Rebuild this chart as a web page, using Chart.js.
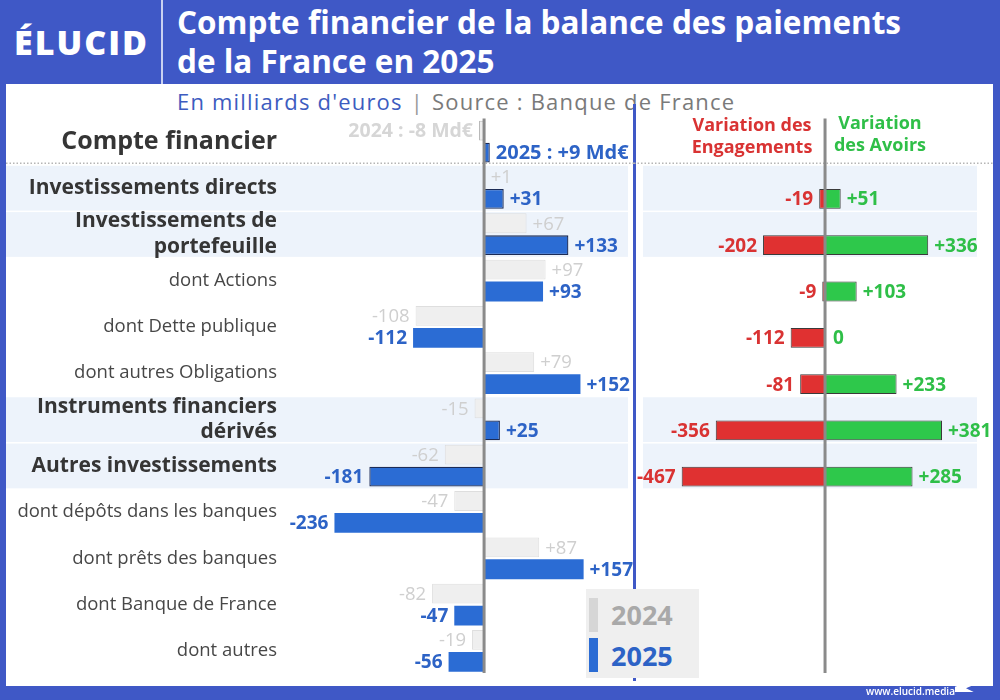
<!DOCTYPE html>
<html lang="fr">
<head>
<meta charset="utf-8">
<title>Compte financier de la balance des paiements de la France en 2025</title>
<script src="https://cdn.jsdelivr.net/npm/chart.js@4.4.1/dist/chart.umd.min.js"></script>
<style>
  html, body { margin: 0; padding: 0; }
  body { width: 1000px; height: 700px; overflow: hidden; font-family: "Open Sans", sans-serif; }
  #page { position: relative; width: 1000px; height: 700px; background: #3f58c6; }
  .abs { position: absolute; white-space: nowrap; }
  #panel { left: 6px; top: 84px; width: 987px; height: 602px; background: #fff; }
  #logo { left: 14px; top: 20px; font-size: 34px; font-weight: 800; color: #fff; line-height: 44px; letter-spacing: 2px; }
  #sep { left: 161px; top: 0; width: 2px; height: 84px; background: #c9d1f1; }
  #title { left: 177px; top: 2px; font-size: 31.5px; font-weight: 700; color: #fff; line-height: 39px; }
  #subtitle { left: 177px; top: 86px; font-size: 22px; line-height: 30px; color: #7a7a7a; letter-spacing: 1.2px; }
  #subtitle .unit { color: #3d5cc0; }
  #subtitle .bar { color: #9a9a9a; margin: 0 8px; }
  #divider { left: 633px; top: 104px; width: 3px; height: 577px; background: #3f58c6; }
  canvas { position: absolute; }
  #leftChart { left: 6px; top: 84px; }
  #rightChart { left: 634px; top: 84px; }
  .head { font-size: 18px; font-weight: 700; line-height: 22px; text-align: center; }
  #headEng { left: 688px; top: 113px; width: 128px; color: #d93333; }
  #headAv { left: 828px; top: 111px; width: 104px; color: #2fbf48; }
  #legend { left: 586px; top: 589px; width: 113px; height: 89px; background: #efefef; }
  .key { position: absolute; left: 3px; width: 9px; }
  .keyText { position: absolute; left: 25px; font-size: 27px; font-weight: 700; line-height: 36px; }
  #footer { left: 866px; top: 683px; font-size: 10px; font-weight: 600; color: #fff; line-height: 16px; }
  #flag { left: 955px; top: 679px; width: 22px; height: 13px; background: #fff;
          clip-path: polygon(0 60%, 100% 0, 100% 35%, 50% 72%, 85% 100%, 0 100%); }
</style>
</head>
<body>
<div id="page">
  <div class="abs" id="panel"></div>
  <div class="abs" id="logo">ÉLUCID</div>
  <div class="abs" id="sep"></div>
  <div class="abs" id="title">Compte financier de la balance des paiements<br>de la France en 2025</div>
  <div class="abs" id="subtitle"><span class="unit">En milliards d'euros</span><span class="bar">|</span>Source : Banque de France</div>
  <div class="abs" id="divider"></div>
  <canvas id="leftChart" width="628" height="602"></canvas>
  <canvas id="rightChart" width="359" height="602"></canvas>
  <div class="abs head" id="headEng">Variation des<br>Engagements</div>
  <div class="abs head" id="headAv">Variation<br>des Avoirs</div>
  <div class="abs" id="legend"></div>
  <div class="abs" id="footer">www.elucid.media</div>
  <div class="abs" id="flag"></div>
</div>
<script>
const FONT = '"Open Sans", sans-serif';

const categories = [
  'Compte financier',
  'Investissements directs',
  ['Investissements de', 'portefeuille'],
  'dont Actions',
  'dont Dette publique',
  'dont autres Obligations',
  ['Instruments financiers', 'dérivés'],
  'Autres investissements',
  'dont dépôts dans les banques',
  'dont prêts des banques',
  'dont Banque de France',
  'dont autres'
];
// 0 = total, 1 = poste principal, 2 = sous-poste
const levels = [0, 1, 1, 2, 2, 2, 1, 1, 2, 2, 2, 2];

const years = ['2024', '2025'];
const flux2024 = [-8, 1, 67, 97, -108, 79, -15, -62, -47, 87, -82, -19];
const flux2025 = [9, 31, 133, 93, -112, 152, 25, -181, -236, 157, -47, -56];

const variationNames = ['Variation des Avoirs', 'Variation des Engagements'];
const avoirs2025 = [null, 51, 336, 103, 0, 233, 381, 285, null, null, null, null];
const engagements2025 = [null, -19, -202, -9, -112, -81, -356, -467, null, null, null, null];

const yearColors = ['#efefef', '#2b6cd4'];
const yearTextColors = ['#a9a9a9', '#2d63c6'];

Chart.defaults.font.family = FONT;

function fmt(v) {
  return v > 0 ? '+' + v : String(v);
}

// bandes de fond des postes principaux + ligne pointillée sous le total
const rowBands = {
  id: 'rowBands',
  beforeDraw(chart, args, opts) {
    const ctx = chart.ctx;
    const y = chart.scales.y;
    const area = chart.chartArea;
    const step = y.getPixelForValue(1) - y.getPixelForValue(0);
    ctx.save();
    ctx.fillStyle = '#edf3fb';
    levels.forEach((lv, i) => {
      if (lv !== 1) return;
      const c = y.getPixelForValue(i);
      const x0 = opts.fromEdge ? 0 : area.left;
      ctx.fillRect(x0, c - step / 2 + 1, area.right - x0, step - 1.5);
    });
    const yd = y.getPixelForValue(0) + step / 2 - 1.5;
    ctx.strokeStyle = '#b5b5b5';
    ctx.lineWidth = 1.5;
    ctx.setLineDash([1.5, 2]);
    ctx.beginPath();
    ctx.moveTo(0, yd);
    ctx.lineTo(chart.width, yd);
    ctx.stroke();
    ctx.restore();
  }
};

const zeroLine = {
  id: 'zeroLine',
  afterDatasetsDraw(chart) {
    const ctx = chart.ctx;
    const x = chart.scales.x.getPixelForValue(0);
    ctx.save();
    ctx.strokeStyle = '#8a8a8a';
    ctx.lineWidth = 3;
    ctx.beginPath();
    ctx.moveTo(x, chart.chartArea.top);
    ctx.lineTo(x, chart.chartArea.bottom - 1);
    ctx.stroke();
    ctx.restore();
  }
};

const valueLabels = {
  id: 'valueLabels',
  afterDatasetsDraw(chart, args, opts) {
    const ctx = chart.ctx;
    ctx.save();
    ctx.textBaseline = 'middle';
    chart.data.datasets.forEach((ds, di) => {
      const st = opts.styles[di];
      if (!st) return;
      const meta = chart.getDatasetMeta(di);
      meta.data.forEach((bar, i) => {
        const v = ds.data[i];
        if (v === null || v === undefined) return;
        let text = fmt(v);
        let font = st.font;
        let color = st.color;
        if (levels[i] === 0) {
          text = ds.label + ' : ' + fmt(v) + ' Md€';
          font = st.totalFont;
          color = st.totalColor || st.color;
        }
        ctx.font = font;
        ctx.fillStyle = color;
        if (v >= 0) {
          ctx.textAlign = 'left';
          ctx.fillText(text, bar.x + (v === 0 ? 8 : 6), bar.y + 1);
        } else {
          ctx.textAlign = 'right';
          ctx.fillText(text, bar.x - 6, bar.y + 1);
        }
      });
    });
    ctx.restore();
  }
};

new Chart(document.getElementById('leftChart'), {
  type: 'bar',
  data: {
    labels: categories,
    datasets: [
      {
        label: years[0],
        data: flux2024,
        backgroundColor: yearColors[0],
        borderColor: (c) => levels[c.dataIndex] === 0 ? '#b9b9b9' : '#dedede',
        borderWidth: 1,
        categoryPercentage: 0.95,
        barPercentage: 0.9
      },
      {
        label: years[1],
        data: flux2025,
        backgroundColor: yearColors[1],
        borderColor: '#1b2b56',
        borderWidth: (c) => levels[c.dataIndex] < 2 ? 1.3 : 0,
        categoryPercentage: 0.95,
        barPercentage: 0.9
      }
    ]
  },
  options: {
    responsive: false,
    animation: false,
    indexAxis: 'y',
    layout: { padding: { top: 34.5, bottom: 12, right: 6 } },
    plugins: {
      legend: { display: false },
      tooltip: { enabled: false },
      rowBands: { fromEdge: true },
      valueLabels: {
        styles: [
          { color: '#cfcfcf', font: '18.5px ' + FONT, totalFont: 'bold 19.5px ' + FONT, totalColor: '#d6d6d6' },
          { color: '#2d63c6', font: 'bold 19px ' + FONT, totalFont: 'bold 20px ' + FONT }
        ]
      }
    },
    scales: {
      x: { display: false, min: -314, max: 227 },
      y: {
        grid: { display: false, drawTicks: false },
        border: { display: false },
        ticks: {
          autoSkip: false,
          padding: 8,
          color: (c) => levels[c.index] === 2 ? '#474747' : '#353535',
          font: (c) => {
            const lv = levels[c.index];
            if (lv === 0) return { size: 25, weight: 'bold', lineHeight: 1.25 };
            if (lv === 1) return { size: 21, weight: 'bold', lineHeight: 1.22 };
            return { size: 18.5, weight: 'normal', lineHeight: 1.25 };
          }
        },
        afterFit(s) {
          s.width = 279;
          s.paddingTop = 0;
          s.paddingBottom = 0;
        }
      }
    }
  },
  plugins: [rowBands, zeroLine, valueLabels]
});

new Chart(document.getElementById('rightChart'), {
  type: 'bar',
  data: {
    labels: categories,
    datasets: [
      { label: '', data: categories.map(() => null), stack: 'vide', categoryPercentage: 0.95, barPercentage: 0.9 },
      {
        label: variationNames[0],
        data: avoirs2025,
        stack: 'flux',
        backgroundColor: '#2ec84b',
        borderColor: '#3a3a3a',
        borderWidth: (c) => c.raw === 0 ? 0 : 1,
        categoryPercentage: 0.95,
        barPercentage: 0.9
      },
      {
        label: variationNames[1],
        data: engagements2025,
        stack: 'flux',
        backgroundColor: '#e03131',
        borderColor: '#3a3a3a',
        borderWidth: 1,
        categoryPercentage: 0.95,
        barPercentage: 0.9
      }
    ]
  },
  options: {
    responsive: false,
    animation: false,
    indexAxis: 'y',
    layout: { padding: { top: 34.5, bottom: 12, left: 9, right: 16 } },
    plugins: {
      legend: { display: false },
      tooltip: { enabled: false },
      rowBands: { fromEdge: false },
      valueLabels: {
        styles: [
          null,
          { color: '#2fbf48', font: 'bold 19px ' + FONT },
          { color: '#d93333', font: 'bold 19px ' + FONT }
        ]
      }
    },
    scales: {
      x: { display: false, stacked: false, min: -593, max: 495 },
      y: { display: false, stacked: true }
    }
  },
  plugins: [rowBands, zeroLine, valueLabels]
});

// légende des années
const legend = document.getElementById('legend');
years.forEach((yr, i) => {
  const key = document.createElement('div');
  key.className = 'key';
  key.style.top = (9 + i * 40) + 'px';
  key.style.height = '34px';
  key.style.background = i === 0 ? '#d6d6d6' : yearColors[1];
  legend.appendChild(key);
  const t = document.createElement('div');
  t.className = 'keyText';
  t.style.top = (8 + i * 41) + 'px';
  t.style.color = yearTextColors[i];
  t.textContent = yr;
  legend.appendChild(t);
});
</script>
</body>
</html>
